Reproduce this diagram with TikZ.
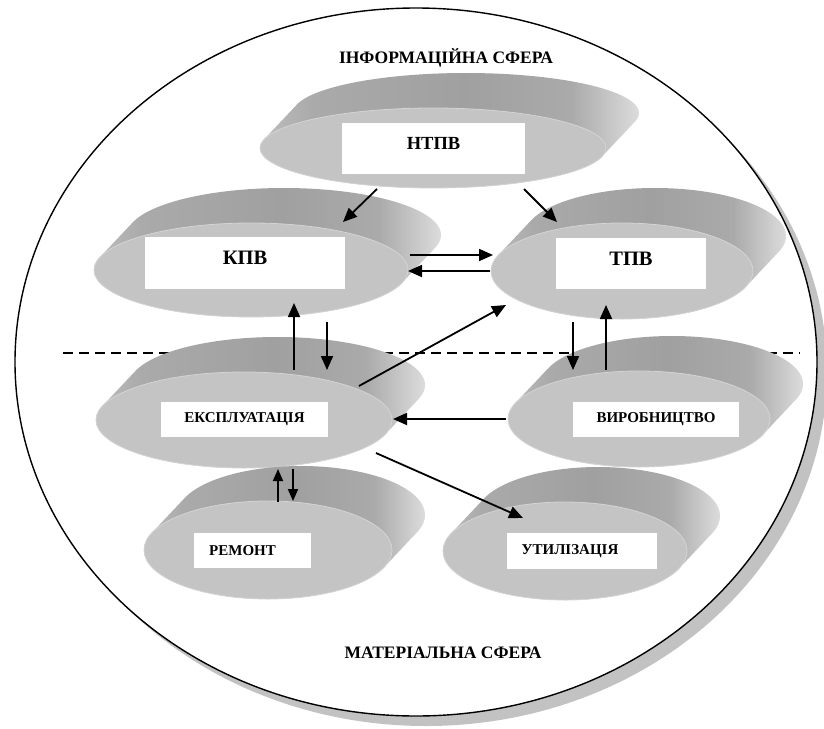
\documentclass[tikz,border=0pt]{standalone}
\usepackage{fontspec}
\setmainfont{Liberation Serif}
\usetikzlibrary{arrows.meta,calc,shapes.geometric}

\definecolor{facegray}{HTML}{C4C4C4}
\definecolor{rimgray}{HTML}{D4D4D4}
\definecolor{shadowgray}{HTML}{C2C2C2}
\definecolor{sideL}{HTML}{BEBEBE}
\definecolor{sideM}{HTML}{AAAAAA}
\definecolor{sideD}{HTML}{A0A0A0}
\definecolor{sideR}{HTML}{DCDCDC}

% side wall of a disk: light at the left, dark in the middle, bright at the right
\pgfdeclarehorizontalshading{diskside}{100bp}{color(0bp)=(sideL); color(25bp)=(sideL);
  color(32bp)=(sideM); color(52bp)=(sideD); color(66bp)=(sideM); color(75bp)=(sideR);
  color(100bp)=(sideR)}

% depth of every disk (image units, y pointing down)
\def\ddx{33}
\def\ddy{-35}

% \diskshape{name}{cx}{cy}{a}{b}: extruded ellipse, front face named #1
\newcommand\diskshape[5]{%
  \pgfmathsetmacro\dts{atan(-(#5)*(\ddx)/((#4)*(\ddy)))}%
  \pgfmathsetmacro\dta{\dts+180}%
  \pgfmathsetmacro\dtb{\dts+360}%
  \shade[shading=diskside]
    plot[domain=\dta:\dtb, samples=90, variable=\t]
      ({#2+\ddx+#4*cos(\t)},{#3+\ddy+#5*sin(\t)})
    -- plot[domain=\dts:\dta, samples=90, variable=\t]
      ({#2+#4*cos(\t)},{#3+#5*sin(\t)}) -- cycle;
  \node[diskface, minimum width={2*#4*1pt}, minimum height={2*#5*1pt}] (#1) at (#2,#3) {};
}

\tikzset{
  diskface/.style={ellipse, inner sep=0pt, outer sep=0pt, fill=facegray, draw=rimgray, line width=0.8pt},
  bigbox/.style={fill=white, inner sep=0pt, font=\bfseries\fontsize{20.5}{22}\selectfont, text depth=10pt},
  smallbox/.style={fill=white, inner sep=0pt, font=\bfseries\fontsize{15}{17}\selectfont},
  sphere/.style={font=\bfseries\fontsize{17.5}{19}\selectfont, inner sep=0pt},
  arr/.style={line width=1.8pt, -{Triangle[length=14pt,width=12pt]}},
  divider/.style={line width=1.3pt, dash pattern=on 10pt off 6pt},
}

\begin{document}
\begin{tikzpicture}[x=1pt, y=-1pt]
\useasboundingbox (0,0) rectangle (824,728);

% outer sphere with its shadow
\fill[shadowgray] (426,372) ellipse[x radius=401, y radius=354];
\draw[fill=white, line width=1.4pt] (416,362) ellipse[x radius=401, y radius=354];

\node[sphere] (info) at (446,58) {ІНФОРМАЦІЙНА СФЕРА};
\node[sphere] (matter) at (443,653) {МАТЕРІАЛЬНА СФЕРА};

% border between the two spheres
\coordinate (divL) at (63,353);
\coordinate (divR) at (800,353);
\draw[divider] (divL) -- (divR);

% disks
\diskshape{ntpv}{433}{148}{173}{40}
\diskshape{kpv}{251}{270}{157}{47}
\diskshape{tpv}{622}{271}{131}{48}
\diskshape{eks}{244}{420}{148}{48}
\diskshape{vyr}{639}{419}{131}{48}
\diskshape{rem}{268}{550}{124}{49}
\diskshape{uti}{565}{551}{122}{49}

% labels
\node[bigbox, font=\bfseries\fontsize{18.5}{20}\selectfont, minimum width=183pt, minimum height=51pt] (ntpvL) at (433.5,148.5) {НТПВ};
\node[bigbox, minimum width=200pt, minimum height=52pt] (kpvL) at (245,263) {КПВ};
\node[bigbox, minimum width=150pt, minimum height=51pt] (tpvL) at (631,263.5) {ТПВ};
\node[smallbox, minimum width=167pt, minimum height=35pt] (eksL) at (244.5,419.5) {ЕКСПЛУАТАЦІЯ};
\node[smallbox, minimum width=166pt, minimum height=35pt] (vyrL) at (656,419.5) {ВИРОБНИЦТВО};
\node[smallbox, minimum width=117pt, minimum height=35pt] (remL) at (252.5,550.5) {РЕМОНТ\hspace*{20pt}};
\node[smallbox, minimum width=150pt, minimum height=36pt] (utiL) at (582,551) {УТИЛІЗАЦІЯ\hspace*{24pt}};

% flows
\draw[arr] ($(ntpv)+(-56,41)$) -- ($(kpv)+(92,-48)$);
\draw[arr] ($(ntpv)+(91,41)$) -- ($(tpv)+(-65,-49)$);
\draw[arr] ($(kpv)+(159,-15)$) -- ($(tpv)+(-129,-16)$);
\draw[arr] ($(tpv)+(-132,0)$) -- ($(kpv)+(157,1)$);
\draw[arr] ($(eks)+(50,-50)$) -- ($(kpv)+(43,33)$);
\draw[arr] ($(kpv)+(76,52)$) -- ($(eks)+(83,-50)$);
\draw[arr] ($(eks)+(115,-34)$) -- ($(tpv)+(-116,34)$);
\draw[arr] ($(tpv)+(-49,51)$) -- ($(vyr)+(-66,-49)$);
\draw[arr] ($(vyr)+(-33,-49)$) -- ($(tpv)+(-16,34)$);
\draw[arr] ($(vyr)+(-133,0)$) -- ($(eks)+(149,-1)$);
\draw[arr] ($(eks)+(132,33)$) -- ($(uti)+(-42,-33)$);
\draw[arr, -{Triangle[length=12pt,width=10pt]}] ($(rem)+(10,-48)$) -- ($(eks)+(34,49)$);
\draw[arr, -{Triangle[length=12pt,width=10pt]}] ($(eks)+(49,49)$) -- ($(rem)+(25,-49)$);
\end{tikzpicture}
\end{document}
